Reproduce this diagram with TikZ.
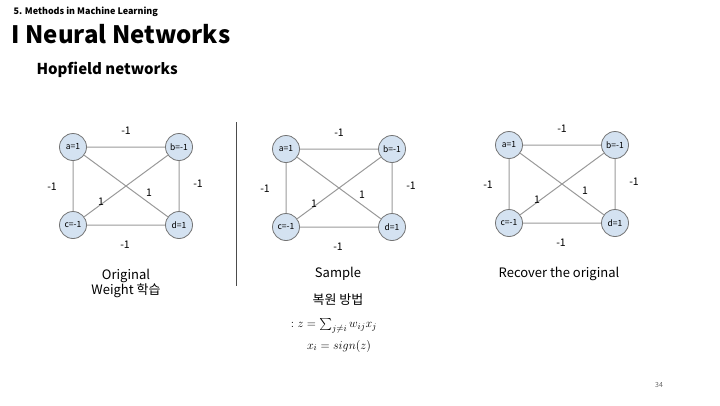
\documentclass[tikz,border=0pt]{standalone}
\usepackage{fontspec}
\setmainfont{Noto Sans CJK KR}
\usepackage{amsmath}
\definecolor{nodefill}{HTML}{D4E2F1}
\begin{document}
\begin{tikzpicture}[x=1pt,y=-1pt,
  nd/.style={circle,draw=black!55,fill=nodefill,line width=0.8pt,minimum size=27pt,inner sep=0pt,font=\fontsize{8.5}{9}\selectfont},
  ed/.style={draw=black!40,line width=1pt},
  lb/.style={font=\fontsize{10.5}{11}\selectfont},
  captxt/.style={font=\fontsize{13}{15}\selectfont,align=center}]
\useasboundingbox (0,0) rectangle (720,405);
\node[anchor=west,font=\bfseries\fontsize{9}{9}\selectfont] (hdr) at (10,12) {5. Methods in Machine Learning};
\node[anchor=west,font=\bfseries\fontsize{24}{26}\selectfont] (ttl) at (8,34) {I Neural Networks};
\node[anchor=west,font=\bfseries\fontsize{15}{17}\selectfont] (sub) at (33,70) {Hopfield networks};
\newcommand{\hopnet}[4]{%
\begin{scope}[shift={(#1,#2)}]
\node[nd] (#3a) at (0,0) {a=1};
\node[nd] (#3b) at (106,0) {b=-1};
\node[nd] (#3c) at (0,78) {#4};
\node[nd] (#3d) at (106,78) {d=1};
\path[ed] (#3a)--(#3b) (#3a)--(#3c) (#3b)--(#3d) (#3c)--(#3d) (#3a)--(#3d) (#3c)--(#3b);
\node[lb] (#3l1) at (53,-16) {-1};
\node[lb] (#3l2) at (-21,40) {-1};
\node[lb] (#3l3) at (125,37) {-1};
\node[lb] (#3l4) at (52,98) {-1};
\node[lb] (#3l5) at (28,55) {1};
\node[lb] (#3l6) at (76,46) {1};
\end{scope}}
\hopnet{73}{147}{g}{c=-1}
\hopnet{286}{149}{s}{c=-1}
\hopnet{509}{145}{r}{c=-1}
\draw[black!70,line width=0.6pt] (236,122) -- (236,286);
\node[captxt] (c1) at (126,283) {Original\\Weight 학습};
\node[captxt] (c2) at (338,274) {Sample};
\node[captxt] (c3) at (559,274) {Recover the original};
\node[captxt] (m1) at (338,300) {복원 방법};
\node[font=\fontsize{13}{15}\selectfont,inner sep=1pt] (m2) at (334,326) {$:z=\sum_{j\neq i} w_{ij}x_j$};
\node[font=\fontsize{13}{15}\selectfont,inner sep=1pt] (m3) at (339,346) {$x_i=sign(z)$};
\node[font=\fontsize{7}{8}\selectfont,text=black!60] (pg) at (659,385) {34};
\end{tikzpicture}
\end{document}
